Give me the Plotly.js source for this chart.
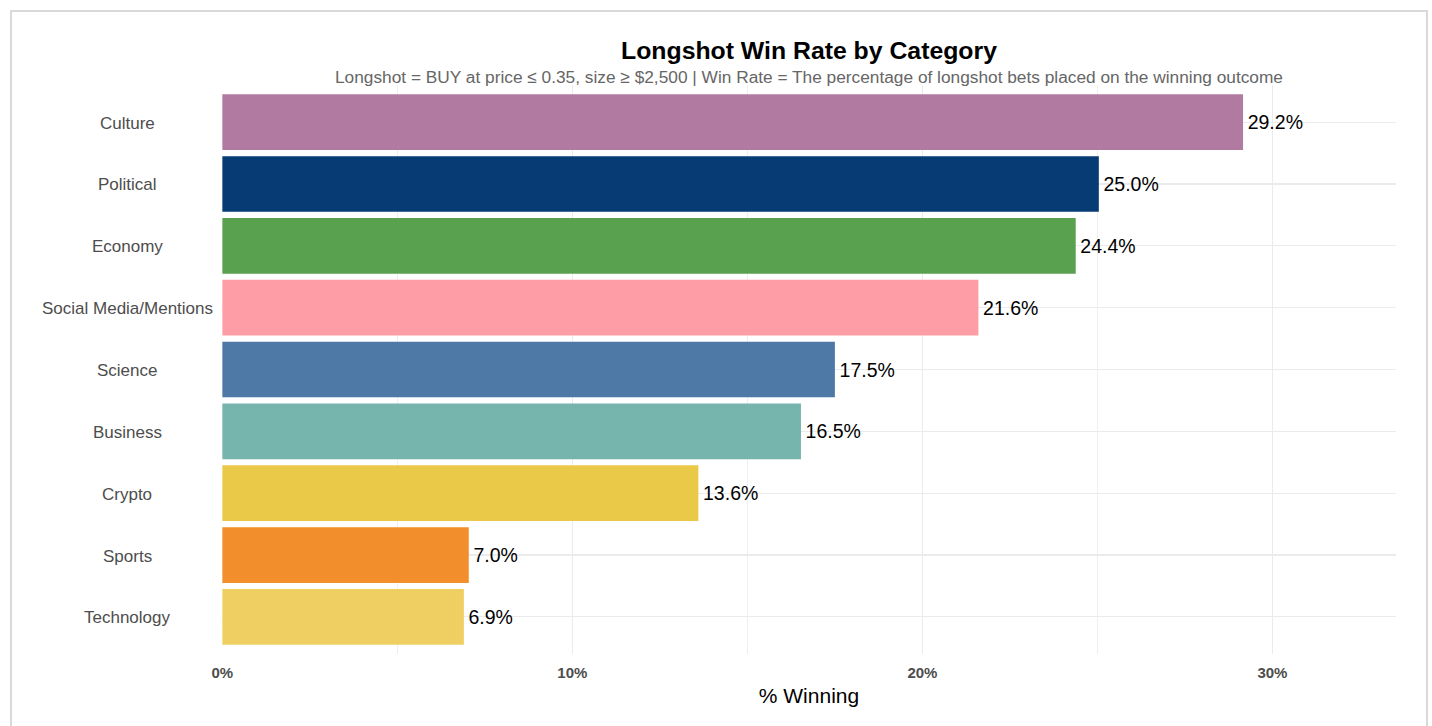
<!DOCTYPE html>
<html>
<head>
<meta charset="utf-8">
<script src="https://cdn.plot.ly/plotly-3.0.1.min.js"></script>
<style>
  html, body { margin: 0; padding: 0; background: #ffffff; }
  #frame { position: absolute; left: 10px; top: 10px; width: 1418px; height: 740px; border: 2px solid #d9d9d9; box-sizing: border-box; pointer-events: none; z-index: 5; }
  #chart { position: absolute; left: 0; top: 0; width: 1432px; height: 726px; }
</style>
</head>
<body>
<div id="chart"></div>
<div id="frame"></div>
<script>
const categories = ["Culture", "Political", "Economy", "Social Media/Mentions", "Science", "Business", "Crypto", "Sports", "Technology"];
const winRates = [29.16, 25.04, 24.38, 21.6, 17.5, 16.53, 13.6, 7.04, 6.9];
const valueLabels = ["29.2%", "25.0%", "24.4%", "21.6%", "17.5%", "16.5%", "13.6%", "7.0%", "6.9%"];
const barColors = ["#B07AA1", "#073B73", "#59A14F", "#FF9DA7", "#4E79A7", "#76B4AE", "#EBC948", "#F28E2B", "#F0CF62"];
const xTickVals = [0, 10, 20, 30];
const xTickText = ["0%", "10%", "20%", "30%"];
const titleText = "Longshot Win Rate by Category";
const subtitleText = "Longshot = BUY at price \u2264 0.35, size \u2265 $2,500 | Win Rate = The percentage of longshot bets placed on the winning outcome";
const xTitle = "% Winning";

const FONT = "Liberation Sans, Arial, sans-serif";

const trace = {
  type: "bar",
  orientation: "h",
  x: winRates,
  y: categories,
  width: 0.9,
  marker: { color: barColors, line: { width: 0 } },
  text: valueLabels.map(t => "\u200A" + t),
  textposition: "outside",
  cliponaxis: false,
  textfont: { family: FONT, size: 19.5, color: "#000000" },
  hoverinfo: "skip"
};

const catAnnotations = categories.map(c => ({
  text: c,
  x: -0.0809,
  xref: "paper",
  y: c,
  yref: "y",
  xanchor: "center",
  yanchor: "middle",
  yshift: -1,
  showarrow: false,
  font: { family: FONT, size: 17, color: "#4d4d4d" }
}));

const layout = {
  width: 1432,
  height: 726,
  paper_bgcolor: "#ffffff",
  plot_bgcolor: "#ffffff",
  margin: { l: 222, r: 36, t: 85, b: 72 },
  showlegend: false,
  font: { family: FONT },
  title: {
    text: "<b>" + titleText + "</b>",
    font: { family: FONT, size: 24.8, color: "#000000" },
    xref: "paper",
    x: 0.5,
    xanchor: "center",
    yref: "container",
    y: 1 - 50 / 726,
    yanchor: "middle"
  },
  xaxis: {
    range: [-0.01, 33.53],
    tickvals: xTickVals,
    ticktext: xTickText,
    showgrid: true,
    gridcolor: "#ebebeb",
    gridwidth: 1.2,
    minor: { dtick: 5, tick0: 0, showgrid: true, gridcolor: "#ebebeb", gridwidth: 0.8 },
    zeroline: false,
    showline: false,
    ticks: "",
    ticklabelstandoff: 8,
    tickfont: { family: FONT, size: 15, color: "#4d4d4d", weight: "bold" },
    title: { text: xTitle, font: { family: FONT, size: 21, color: "#000000" }, standoff: 8 },
    fixedrange: true
  },
  yaxis: {
    type: "category",
    categoryorder: "array",
    categoryarray: categories,
    range: [8.6, -0.6],
    showgrid: true,
    gridcolor: "#ebebeb",
    gridwidth: 1.2,
    zeroline: false,
    showline: false,
    showticklabels: false,
    ticks: "",
    fixedrange: true
  },
  annotations: [
    {
      text: subtitleText,
      xref: "paper", x: 0.5, xanchor: "center",
      yref: "paper", y: 1 + 8 / 569, yanchor: "middle",
      showarrow: false,
      font: { family: FONT, size: 17.3, color: "#666666" }
    }
  ].concat(catAnnotations)
};

Plotly.newPlot("chart", [trace], layout, { displayModeBar: false, staticPlot: true });
</script>
</body>
</html>
